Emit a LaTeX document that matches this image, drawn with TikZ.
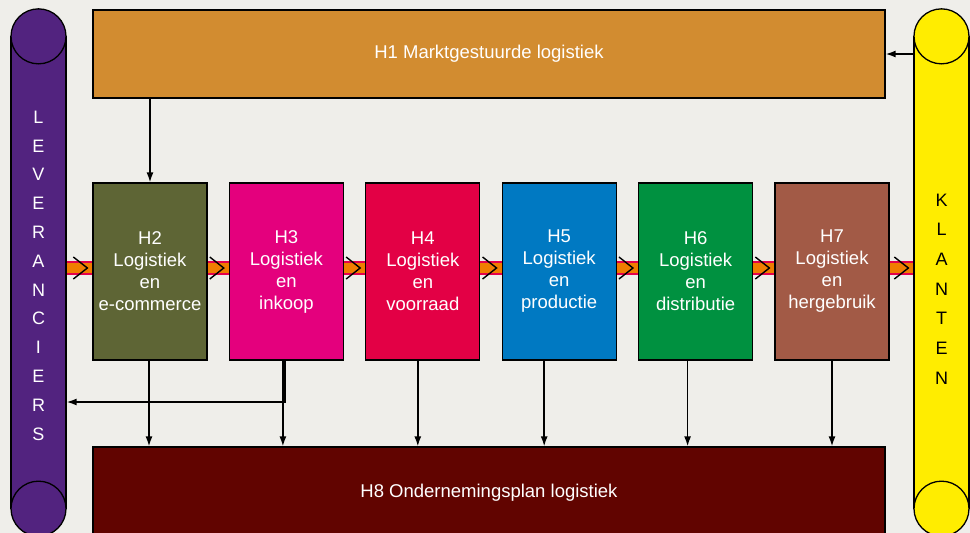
\documentclass[tikz,border=0pt]{standalone}
\usepackage{fontspec}
\setmainfont{Liberation Sans}
\usetikzlibrary{arrows.meta,calc,positioning}

\definecolor{achtergrond}{HTML}{EFEEEA}
\definecolor{paars}{HTML}{52237F}
\definecolor{geel}{HTML}{FFED00}
\definecolor{okerH1}{HTML}{D28C30}
\definecolor{olijfH2}{HTML}{5E6535}
\definecolor{magentaH3}{HTML}{E4007D}
\definecolor{roodH4}{HTML}{E30045}
\definecolor{blauwH5}{HTML}{0079C2}
\definecolor{groenH6}{HTML}{009140}
\definecolor{bruinH7}{HTML}{A25A46}
\definecolor{donkerH8}{HTML}{610400}
\definecolor{bandoranje}{HTML}{F07D00}
\definecolor{bandrood}{HTML}{E4004B}

\begin{document}
\begin{tikzpicture}[x=1pt,y=-1pt,
  hfst/.style={draw, line width=1.3pt, minimum width=114, minimum height=177, inner sep=0pt, text=white, align=center, font=\fontsize{18.5}{22}\selectfont},
  breed/.style={draw, line width=1.3pt, minimum width=792, inner sep=0pt, text=white, font=\fontsize{18.5}{22}\selectfont},
  rol/.style={draw, line width=1.3pt, minimum width=55, minimum height=471, inner sep=0pt},
  pijl/.style={line width=1.5pt, -{Latex[length=10pt,width=7pt]}},
  band/.style={draw=bandrood, double=bandoranje, double distance=10pt, line width=2pt},
  chev/.style={line width=1.4pt},
  node distance=21.1]
\path[use as bounding box, fill=achtergrond] (0,0) rectangle (970,533);

\node[rol, fill=paars] (lev) at (38.5,272.5) {};
\draw[line width=1.3pt, fill=paars] (lev.north) circle[radius=27.5];
\draw[line width=1.3pt, fill=paars] (lev.south) circle[radius=27.5];
\node[rol, fill=geel] (kla) at (941.5,272.5) {};
\draw[line width=1.3pt, fill=geel] (kla.north) circle[radius=27.5];
\draw[line width=1.3pt, fill=geel] (kla.south) circle[radius=27.5];
\node[text=white, align=center, font=\fontsize{18}{28.8}\selectfont] (levtxt) at (38.5,275.5) {L\\E\\V\\E\\R\\A\\N\\C\\I\\E\\R\\S};
\node[text=black, align=center, font=\fontsize{18}{29.7}\selectfont] (klatxt) at (941.5,289) {K\\L\\A\\N\\T\\E\\N};

\node[breed, fill=okerH1, minimum height=88] (h1) at (489,54) {H1 Marktgestuurde logistiek};
\node[breed, fill=donkerH8, minimum height=92] (h8) at (489,493) {H8 Ondernemingsplan logistiek};

\node[hfst, fill=olijfH2] (h2) at (150,271.5) {H2\\Logistiek\\en\\e-commerce};
\node[hfst, fill=magentaH3, right=of h2] (h3) {H3\\Logistiek\\en\\inkoop};
\node[hfst, fill=roodH4, right=of h3] (h4) {H4\\Logistiek\\en\\voorraad};
\node[hfst, fill=blauwH5, right=of h4] (h5) {H5\\Logistiek\\en\\productie};
\node[hfst, fill=groenH6, right=of h5] (h6) {H6\\Logistiek\\en\\distributie};
\node[hfst, fill=bruinH7, right=of h6] (h7) {H7\\Logistiek\\en\\hergebruik};

\coordinate (bandy) at (0,268);
\coordinate (terug) at (0,402);
\foreach \a/\b in {lev/h2,h2/h3,h3/h4,h4/h5,h5/h6,h6/h7,h7/kla} {
  \draw[band] (\a.east |- bandy) -- (\b.west |- bandy);
  \draw[chev] ($(\b.west |- bandy)+(-19,-11)$) -- ++(14,11) -- ++(-14,11);
}

\draw[pijl] (kla.west |- h1) -- (h1.east);
\draw[pijl] (h1.south -| h2) -- (h2.north);
\foreach \n/\d in {h2/-1,h3/-3.5,h4/-5,h5/-15,h6/-8,h7/0}
  \draw[pijl] ([xshift=\d]\n.south) -- ([xshift=\d]\n.south |- h8.north);
\draw[pijl] ([xshift=-1.5]h3.south) |- (lev.east |- terug);
\end{tikzpicture}
\end{document}
